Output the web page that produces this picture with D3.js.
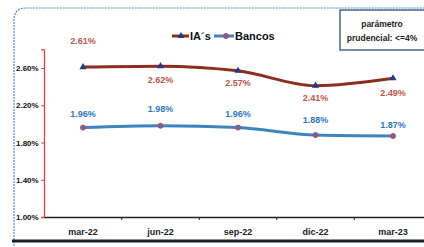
<!DOCTYPE html>
<html><head><meta charset="utf-8">
<script src="https://cdn.jsdelivr.net/npm/d3@7"></script>
<style>
html,body{margin:0;padding:0;background:#fff;}
svg{display:block;font-family:"Liberation Sans",Arial,sans-serif;}
</style></head>
<body>
<svg id="c" width="424" height="247"></svg>
<script>
const categories = ["mar-22","jun-22","sep-22","dic-22","mar-23"];
const iasValues = [2.61, 2.62, 2.57, 2.41, 2.49];
const bancosValues = [1.96, 1.98, 1.96, 1.88, 1.87];
const yTicks = [1.00, 1.40, 1.80, 2.20, 2.60];
const seriesNames = ["IA´s", "Bancos"];
const boxText = ["parámetro", "prudencial: <=4%"];

const svg = d3.select("#c");

// frame
svg.append("path")
  .attr("d", "M14,246 L14,20 Q14,8 26,8 L430,8")
  .attr("fill","#fff").attr("stroke","#4a90b8").attr("stroke-width",1.2)
  .attr("stroke-dasharray","2,1");
svg.append("line").attr("x1",12).attr("x2",424).attr("y1",241).attr("y2",241)
  .attr("stroke","#1a1f2a").attr("stroke-width",3);

const x = d3.scaleBand().domain(categories).range([44.25, 431.75]);
const y = d3.scaleLinear().domain([1.0, 2.8]).range([217, 49.4]);

// y axis
const ya = svg.append("g").attr("transform","translate(44,0)")
  .call(d3.axisLeft(y).tickValues(yTicks).tickSize(3).tickFormat(d => d.toFixed(2)+"%"));
ya.select(".domain").attr("stroke","#d9453a").attr("stroke-width",1.3);
ya.selectAll(".tick line").attr("stroke","#d9453a");
ya.selectAll(".tick text").attr("x",-28).attr("text-anchor","start")
  .attr("font-size",8).attr("font-weight","bold").attr("fill","#111")
  .attr("font-family","'Liberation Sans Narrow','Liberation Sans',sans-serif");

// x axis
const xa = svg.append("g").attr("transform","translate(0,217)")
  .call(d3.axisBottom(x).tickSize(0).tickPadding(12));
xa.select(".domain").attr("stroke","#222").attr("stroke-width",1.5);
xa.selectAll(".tick text").attr("font-size",9).attr("font-weight","bold").attr("fill","#222");
// band boundary ticks
svg.append("g").selectAll("line").data(categories.slice(1)).join("line")
  .attr("x1",d=>x(d)).attr("x2",d=>x(d)).attr("y1",217).attr("y2",220)
  .attr("stroke","#222").attr("stroke-width",1);

const cx = d => x(d) + x.bandwidth()/2;
const line = d3.line().x(d=>cx(d[0])).y(d=>y(d[1])).curve(d3.curveMonotoneX);

const iasData = categories.map((c,i)=>[c,iasValues[i]]);
const banData = categories.map((c,i)=>[c,bancosValues[i]]);

svg.append("path").datum(iasData).attr("d",line).attr("fill","none")
  .attr("stroke","#8c2d1e").attr("stroke-width",3);
svg.append("path").datum(banData).attr("d",line).attr("fill","none")
  .attr("stroke","#3d85c0").attr("stroke-width",3);

const tri = d3.symbol().type(d3.symbolTriangle).size(22);
svg.append("g").selectAll("path").data(iasData).join("path")
  .attr("d",tri).attr("transform",d=>`translate(${cx(d[0])},${y(d[1])})`)
  .attr("fill","#1f3a8a");
svg.append("g").selectAll("circle").data(banData).join("circle")
  .attr("cx",d=>cx(d[0])).attr("cy",d=>y(d[1])).attr("r",2.5)
  .attr("fill","#5a6fa8").attr("stroke","#d0404a").attr("stroke-width",1);

// labels
const iasOff = [-23, 17, 15, 15, 18];
svg.append("g").selectAll("text").data(iasData).join("text")
  .attr("x",d=>cx(d[0])).attr("y",(d,i)=>y(d[1])+iasOff[i])
  .attr("text-anchor","middle").attr("font-size",9).attr("font-weight","bold")
  .attr("fill","#c0564a")
  .text(d=>d[1].toFixed(2)+"%");
const banOff = [-11, -14, -11, -12, -8];
svg.append("g").selectAll("text").data(banData).join("text")
  .attr("x",d=>cx(d[0])).attr("y",(d,i)=>y(d[1])+banOff[i])
  .attr("text-anchor","middle").attr("font-size",9).attr("font-weight","bold")
  .attr("fill","#2f78c0")
  .text(d=>d[1].toFixed(2)+"%");

// legend
const lg = svg.append("g");
lg.append("line").attr("x1",172).attr("x2",189).attr("y1",36).attr("y2",36).attr("stroke","#8c2d1e").attr("stroke-width",3);
lg.append("path").attr("d",tri).attr("transform","translate(181,36)").attr("fill","#1f3a8a");
lg.append("text").attr("x",190).attr("y",40).attr("font-size",11).attr("font-weight","bold").attr("fill","#111").text(seriesNames[0]);
lg.append("line").attr("x1",214).attr("x2",234).attr("y1",36).attr("y2",36).attr("stroke","#3d85c0").attr("stroke-width",3);
lg.append("circle").attr("cx",226).attr("cy",36).attr("r",2.5).attr("fill","#5a6fa8").attr("stroke","#d0404a");
lg.append("text").attr("x",235).attr("y",40).attr("font-size",11).attr("font-weight","bold").attr("fill","#111").text(seriesNames[1]);

// box
svg.append("rect").attr("x",340).attr("y",10).attr("width",90).attr("height",40)
  .attr("fill","#fff").attr("stroke","#2a4f80").attr("stroke-width",1.3);
svg.append("g").selectAll("text").data(boxText).join("text")
  .attr("x",382).attr("y",(d,i)=>27+i*14).attr("text-anchor","middle")
  .attr("font-size",8.5).attr("font-weight","bold").attr("fill","#222")
  .attr("font-family","'Liberation Sans Narrow','Liberation Sans',sans-serif")
  .text(d=>d);
</script>
</body></html>
